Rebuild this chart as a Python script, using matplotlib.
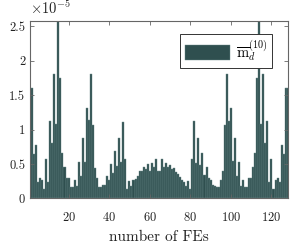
import matplotlib
matplotlib.use("Agg")
import matplotlib.pyplot as plt
from matplotlib.ticker import FuncFormatter, FixedLocator
import numpy as np

# number of FE (1..128)
fe_index = list(range(1, 129))

# values in units of 1e-5
m_values = [
    1.60, 1.60, 0.64, 0.78, 0.24, 0.29, 0.26, 0.14, 0.57, 0.24,
    1.12, 0.80, 1.81, 1.08, 2.58, 1.75, 0.66, 0.46, 0.29, 0.29,
    0.16, 0.16, 0.27, 0.18, 0.53, 0.32, 0.88, 0.53, 1.31, 1.14,
    1.81, 1.07, 0.44, 0.29, 0.16, 0.16, 0.20, 0.20, 0.33, 0.27,
    0.50, 0.37, 0.69, 0.47, 0.88, 0.53, 1.11, 0.57, 0.13, 0.25,
    0.18, 0.27, 0.28, 0.33, 0.39, 0.39, 0.46, 0.42, 0.50, 0.39,
    0.52, 0.46, 0.57, 0.39, 0.39, 0.57, 0.46, 0.52, 0.45, 0.48,
    0.42, 0.44, 0.38, 0.36, 0.31, 0.27, 0.24, 0.18, 0.25, 0.13,
    0.57, 1.12, 0.51, 0.88, 0.49, 0.66, 0.34, 0.46, 0.29, 0.27,
    0.20, 0.18, 0.16, 0.16, 0.27, 0.40, 1.07, 1.81, 1.12, 1.31,
    0.55, 0.88, 0.32, 0.53, 0.18, 0.27, 0.16, 0.16, 0.29, 0.29,
    0.46, 0.66, 1.75, 2.58, 1.08, 1.81, 0.80, 1.12, 0.24, 0.57,
    0.14, 0.26, 0.29, 0.24, 0.78, 0.64, 1.60, 1.60,
]
scale = 1e-5
x_ticks = [20, 40, 60, 80, 100, 120]
y_ticks = [0, 0.5, 1, 1.5, 2, 2.5]
legend_label = r"$\overline{\mathrm{m}}_d^{(10)}$"
x_label = "number of FEs"

plt.rcParams["font.family"] = ["cmr10", "DejaVu Serif"]
plt.rcParams["mathtext.fontset"] = "cm"
plt.rcParams["axes.unicode_minus"] = False
plt.rcParams["axes.formatter.use_mathtext"] = True

fig = plt.figure(figsize=(2.94, 2.43), dpi=100)
ax = fig.add_axes([30/294, 1-198.3/243, 257.7/294, 177.3/243])

vals = np.array(m_values) * scale
ax.bar(fe_index, vals, width=1.0, color="#2f4f4f", edgecolor="#6a8a8a",
       linewidth=0.3, label=legend_label)

ax.set_xlim(1, 128)
ax.set_ylim(0, vals.max())
ax.xaxis.set_major_locator(FixedLocator(x_ticks))
ax.yaxis.set_major_locator(FixedLocator([v*scale for v in y_ticks]))
ax.yaxis.set_major_formatter(FuncFormatter(lambda v, p: f"{v/scale:g}"))

spine_col = "#666666"
for s in ax.spines.values():
    s.set_color(spine_col)
    s.set_linewidth(0.8)
ax.tick_params(direction="in", length=3, width=0.6, color=spine_col,
               top=True, right=True, labelsize=9, labelcolor="#222222")
ax.tick_params(axis="x", pad=9)
ax.tick_params(axis="y", pad=3.5)

ax.text(0.0, 1.02, r"$\times10^{-5}$", transform=ax.transAxes,
        ha="left", va="bottom", fontsize=10.5, color="#222222")
ax.set_xlabel(x_label, fontsize=11, color="#222222", labelpad=5)

leg = ax.legend(loc="upper right", bbox_to_anchor=(0.94, 0.925),
                borderaxespad=0, fancybox=False, framealpha=1,
                edgecolor="#333333", fontsize=10.5, handlelength=3.1,
                handleheight=1.2, borderpad=0.3, handletextpad=0.4)
leg.get_frame().set_linewidth(0.7)

fig.savefig("out.png", dpi=100)
